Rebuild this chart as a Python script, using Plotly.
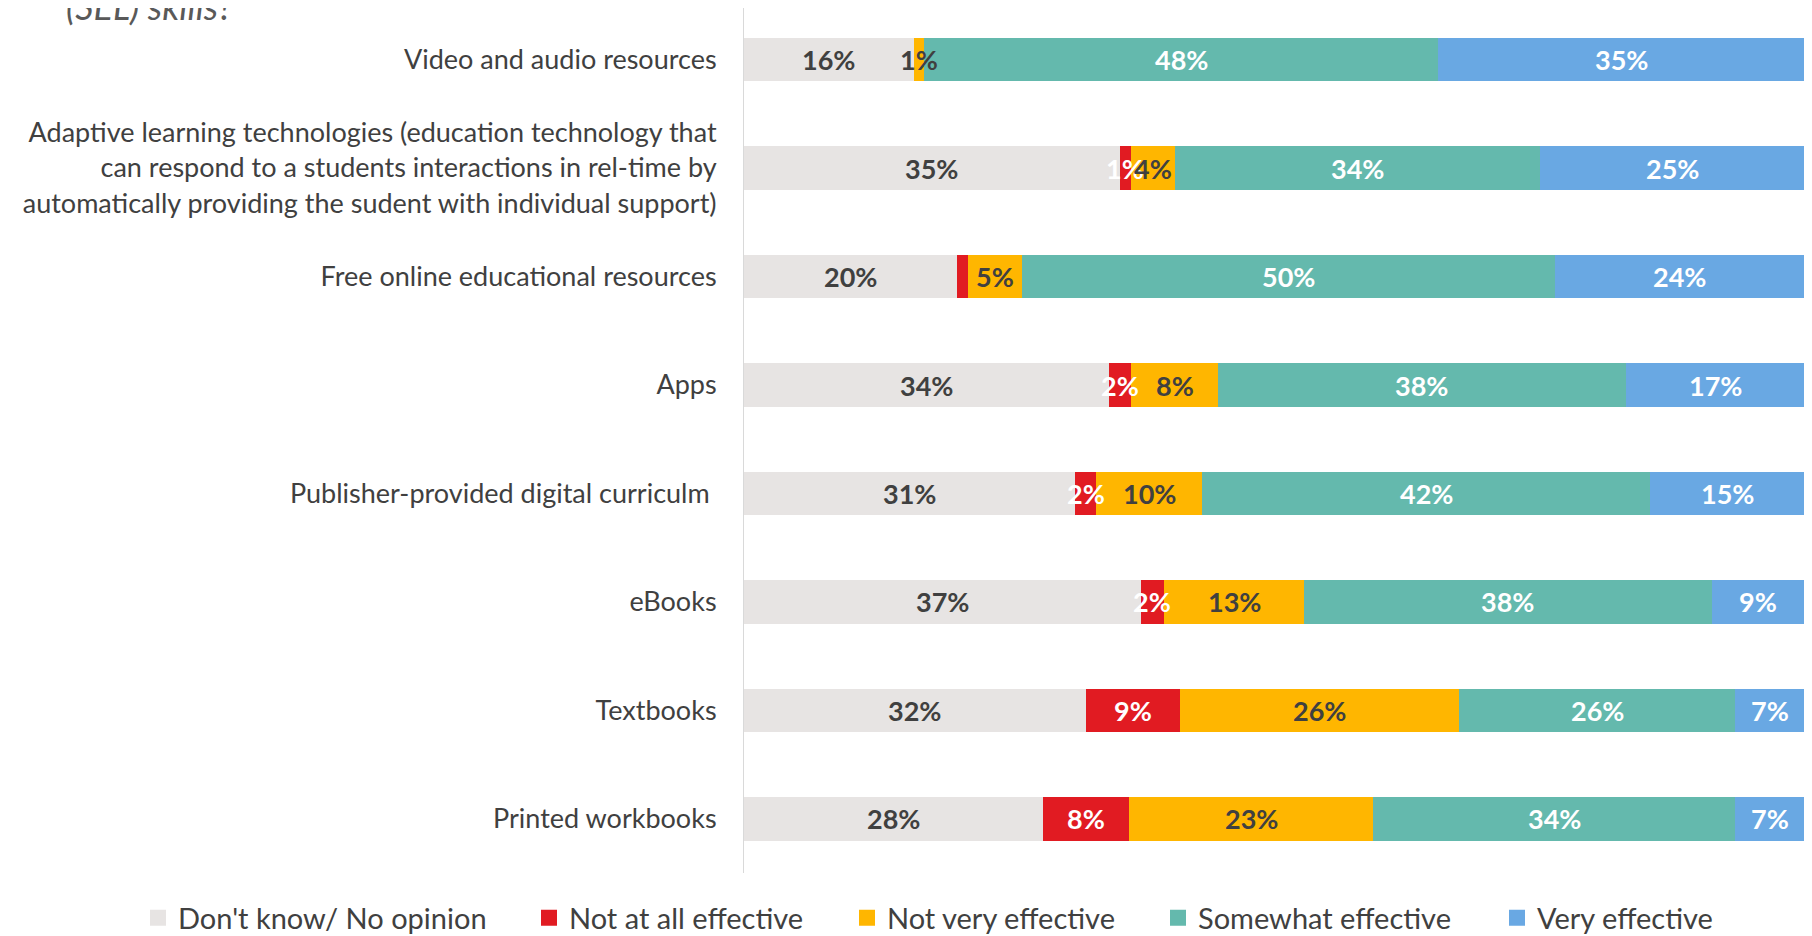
import plotly.graph_objects as go

categories = [
    "Video and audio resources",
    "Adaptive learning technologies (education technology that<br>can respond to a students interactions in rel-time by<br>automatically providing the sudent with individual support)",
    "Free online educational resources",
    "Apps",
    "Publisher-provided digital curriculm ",
    "eBooks",
    "Textbooks",
    "Printed workbooks",
]

series_names = ["Don't know/ No opinion", "Not at all effective", "Not very effective",
                "Somewhat effective", "Very effective"]

dont_know = [16.0, 35.4, 20.1, 34.4, 31.2, 37.4, 32.2, 28.2]
not_at_all = [0.0, 1.1, 1.0, 2.1, 2.0, 2.2, 8.9, 8.1]
not_very = [1.0, 4.1, 5.1, 8.2, 10.0, 13.2, 26.3, 23.0]
somewhat = [48.4, 34.4, 50.2, 38.4, 42.2, 38.4, 26.0, 34.1]
very = [34.6, 25.0, 23.6, 16.9, 14.6, 8.8, 6.6, 6.6]

dont_know_labels = ["16%", "35%", "20%", "34%", "31%", "37%", "32%", "28%"]
not_at_all_labels = ["", "1%", "", "2%", "2%", "2%", "9%", "8%"]
not_very_labels = ["1%", "4%", "5%", "8%", "10%", "13%", "26%", "23%"]
somewhat_labels = ["48%", "34%", "50%", "38%", "42%", "38%", "26%", "34%"]
very_labels = ["35%", "25%", "24%", "17%", "15%", "9%", "7%", "7%"]

title_tail = "(SEL) skills?"

colors = ["#E7E4E3", "#E11B22", "#FFB600", "#64B9AD", "#69A8E3"]
label_colors = ["#404040", "#FFFFFF", "#404040", "#FFFFFF", "#FFFFFF"]

values = [dont_know, not_at_all, not_very, somewhat, very]
labels = [dont_know_labels, not_at_all_labels, not_very_labels, somewhat_labels, very_labels]

FONT = "Lato, 'Liberation Sans', sans-serif"
FIG_W, FIG_H = 1812, 936

# left edge (px) of each legend entry
legend_left_px = [130, 521, 839, 1150, 1489]

fig = go.Figure()
for name, vals, col in zip(series_names, values, colors):
    fig.add_trace(go.Bar(
        y=categories, x=vals, name=name, orientation="h",
        marker=dict(color=col, line=dict(width=0)),
        hoverinfo="x+y+name", showlegend=False,
    ))

legend_layouts = {}
for k, (name, col, lx) in enumerate(zip(series_names, colors, legend_left_px)):
    lname = "legend" if k == 0 else f"legend{k + 1}"
    fig.add_trace(go.Scatter(
        x=[None], y=[None], mode="markers", name=name,
        marker=dict(symbol="square", size=16, color=col),
        showlegend=True, hoverinfo="skip", legend=lname,
    ))
    legend_layouts[lname] = dict(
        orientation="h", xref="container", yref="container",
        x=lx / FIG_W, xanchor="left", y=0.028, yanchor="middle",
        font=dict(size=29, color="#404040"), itemsizing="trace", itemwidth=30,
        bgcolor="rgba(0,0,0,0)",
    )

annotations = []
cum = [0.0] * len(categories)
for vals, labs, lc in zip(values, labels, label_colors):
    for i, (v, lab) in enumerate(zip(vals, labs)):
        if lab:
            annotations.append(dict(
                x=cum[i] + v / 2, y=categories[i], xref="x", yref="y",
                text=lab, showarrow=False,
                font=dict(family=FONT, size=27, color=lc, weight="bold"),
            ))
        cum[i] += v

annotations.append(dict(
    x=0, y=1.0, xref="paper", yref="paper", xanchor="left", yanchor="bottom",
    xshift=-680, yshift=-22,
    text="<i>" + title_tail + "</i>", showarrow=False, align="left",
    font=dict(family=FONT, size=36, color="#595959"),
))

fig.update_layout(
    barmode="stack",
    bargap=0.6,
    width=FIG_W, height=FIG_H,
    margin=dict(l=736, r=15, t=0, b=71, autoexpand=False),
    paper_bgcolor="white", plot_bgcolor="white",
    font=dict(family=FONT, size=27, color="#404040"),
    showlegend=True,
    annotations=annotations,
    xaxis=dict(range=[0, 100], showticklabels=False, showgrid=False, zeroline=False,
               showline=False, fixedrange=True),
    yaxis=dict(range=[7.498, -0.475], showgrid=False, zeroline=False, showline=True,
               linecolor="#D9D9D9", linewidth=1, ticks="", ticklabelstandoff=21,
               automargin=False, tickfont=dict(size=27, color="#404040")),
    **legend_layouts,
)

fig.write_html("out.html")
